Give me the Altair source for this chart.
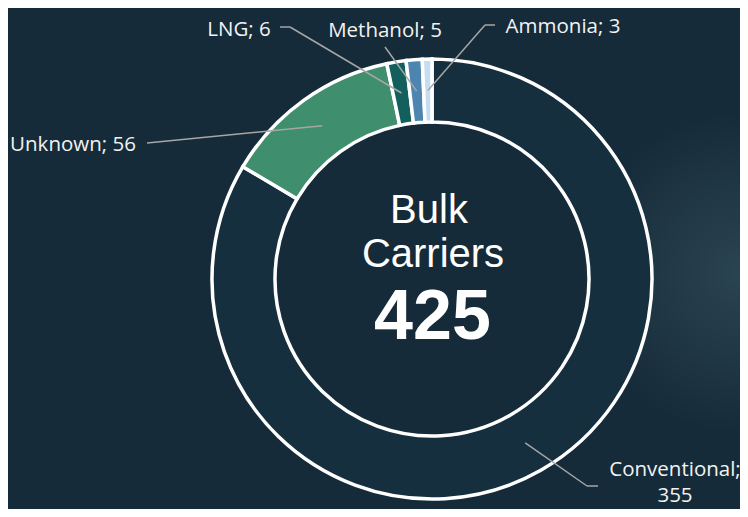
import altair as alt
import pandas as pd

# ---- data (clockwise from 12 o'clock) ----
categories = ["Conventional", "Unknown", "LNG", "Methanol", "Ammonia"]
values = [355, 56, 6, 5, 3]
colors = ["#152f3e", "#3f8e6d", "#125f5e", "#4c86b0", "#c6ddf1"]
title_lines = ["Bulk", "Carriers"]

# ---- layout constants ----
W, H = 732, 501
CX, CY = 424, 271
R_OUT, R_IN = 220, 157
R_LEADER = 188.5
label_x = [667, 65, 231, 377, 555]
label_y = [468, 143, 28, 29, 25]
start_x = [590, 139, 272, 377, 487]
start_y = [478, 135, 19, 39, 17]
elbow_x = [579, 139, 282, 377, 477]
elbow_y = [478, 135, 19, 39, 17]

labels = [
    (f"{c};\n{v}" if c == "Conventional" else f"{c}; {v}")
    for c, v in zip(categories, values)
]

df = pd.DataFrame({
    "category": categories,
    "value": values,
    "order": list(range(len(categories))),
    "label": labels,
    "lx": label_x, "ly": label_y,
    "sx": start_x, "sy": start_y,
    "ex": elbow_x, "ey": elbow_y,
})

base = alt.Chart(df)

# subtle background glow (photo texture approximation)
glow = alt.Chart(pd.DataFrame({"k": [0]})).mark_rect(
    color={
        "gradient": "radial",
        "x1": 1.0, "y1": 0.52, "r1": 0.0,
        "x2": 1.0, "y2": 0.52, "r2": 0.22,
        "stops": [
            {"offset": 0, "color": "#2b4452"},
            {"offset": 1, "color": "#162b39"},
        ],
    }
).encode(
    x=alt.value(0), x2=alt.value(W), y=alt.value(0), y2=alt.value(H)
)

arcs = base.mark_arc(
    outerRadius=R_OUT, innerRadius=R_IN, stroke="white", strokeWidth=3.5
).encode(
    theta=alt.Theta("value:Q", stack=True),
    order=alt.Order("order:Q"),
    color=alt.Color("category:N", scale=alt.Scale(domain=categories, range=colors), legend=None),
    x=alt.value(CX),
    y=alt.value(CY),
)

leader = base.transform_joinaggregate(
    total="sum(value)"
).transform_window(
    cum="sum(value)", sort=[alt.SortField("order")], frame=[None, 0]
).transform_calculate(
    mid="(datum.cum - datum.value/2) / datum.total * 2 * PI",
    px=f"{CX} + {R_LEADER} * sin(datum.mid)",
    py=f"{CY} - {R_LEADER} * cos(datum.mid)",
)

seg2 = leader.mark_rule(color="#a6a6a6", strokeWidth=1.5).encode(
    x=alt.X("ex:Q", scale=None, axis=None),
    y=alt.Y("ey:Q", scale=None, axis=None),
    x2="px:Q",
    y2="py:Q",
)

seg1 = base.mark_rule(color="#a6a6a6", strokeWidth=1.5).encode(
    x=alt.X("sx:Q", scale=None, axis=None),
    y=alt.Y("sy:Q", scale=None, axis=None),
    x2="ex:Q",
    y2="ey:Q",
)

label_text = base.mark_text(
    font="Open Sans", fontSize=20.5, color="#f2f2f2", align="center",
    baseline="alphabetic", lineBreak="\n", lineHeight=26,
).encode(
    x=alt.X("lx:Q", scale=None, axis=None),
    y=alt.Y("ly:Q", scale=None, axis=None),
    text="label:N",
)

center_df = pd.DataFrame({"t": title_lines, "cx": [421, 425], "cy": [215, 259]})
center_title = alt.Chart(center_df).mark_text(
    font="Liberation Sans", fontSize=40,
    color="#ffffff", align="center", baseline="alphabetic",
).encode(
    x=alt.X("cx:Q", scale=None, axis=None),
    y=alt.Y("cy:Q", scale=None, axis=None),
    text="t:N",
)

total_df = pd.DataFrame({"t": [str(sum(values))]})
center_total = alt.Chart(total_df).mark_text(
    font="Liberation Sans", fontSize=70,
    fontWeight="bold", color="#ffffff", align="center", baseline="alphabetic",
).encode(
    x=alt.value(424.5),
    y=alt.value(331),
    text="t:N",
)

chart = alt.layer(
    glow, arcs, seg1, seg2, label_text, center_title, center_total
).properties(
    width=W, height=H,
    autosize=alt.AutoSizeParams(type="none"),
    padding=0,
    background="#162b39",
).configure_view(stroke=None)

chart.save("out.html", embed_options={"renderer": "svg", "actions": False})
